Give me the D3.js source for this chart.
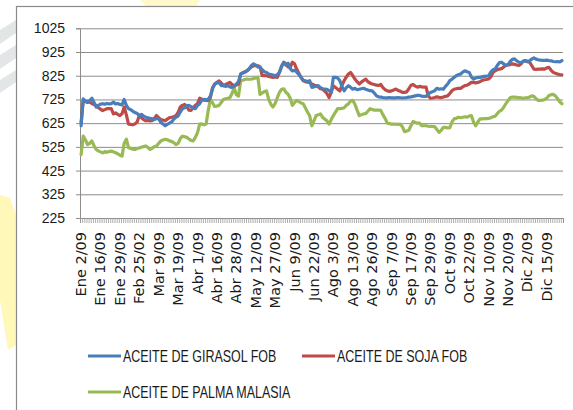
<!DOCTYPE html>
<html lang="es">
<head>
<meta charset="utf-8">
<title>Aceites</title>
<script src="https://cdnjs.cloudflare.com/ajax/libs/d3/7.8.5/d3.min.js" charset="utf-8"></script>
<style>
  body { margin: 0; background: #fff; }
  .ytick text { font: 14px "Liberation Sans", Arial, sans-serif; fill: #1a1a1a; }
  .xlab { font: 14.5px "DejaVu Sans", Verdana, sans-serif; fill: #1a1a1a; }
  .legend text { font: 16px "Liberation Sans", Arial, sans-serif; fill: #1a1a1a; }
</style>
</head>
<body>
<svg class="canvas"></svg>
<script>

// tick labels, one every 9 trading days
var tickLabels = ["Ene 2/09", "Ene 16/09", "Ene 29/09", "Feb 25/02", "Mar 9/09", "Mar 19/09",
  "Abr 1/09", "Abr 16/09", "Abr 28/09", "May 12/09", "May 27/09", "Jun 9/09", "Jun 22/09",
  "Ago 3/09", "Ago 13/09", "Ago 26/09", "Sep 7/09", "Sep 17/09", "Sep 29/09", "Oct 9/09",
  "Oct 22/09", "Nov 10/09", "Nov 20/09", "Dic 2/09", "Dic 15/09"];
var labelStep = 9;

var yTicks = [225, 325, 425, 525, 625, 725, 825, 925, 1025];

var seriesNames = ["ACEITE DE GIRASOL FOB", "ACEITE DE SOJA FOB", "ACEITE DE PALMA MALASIA"];
var seriesColors = ["#4a7ebb", "#be4b48", "#98b954"];

var girasol = [
  614,727,718,716,720,730,712,693,700,705,707,705,708,706,
  707,714,706,708,704,702,725,700,686,682,675,670,666,657,662,655,650,648,645,643,640,645,643,628,621,
  614,620,625,630,642,650,655,672,686,690,698,700,695,688,686,700,707,722,725,724,726,740,771,790,794,
  797,783,786,780,783,778,776,780,790,800,832,836,840,846,855,868,875,870,862,860,850,842,839,832,830,
  828,825,830,839,865,880,870,878,855,845,848,840,830,818,806,804,800,804,776,778,782,783,775,770,769,
  768,762,754,818,818,816,804,780,761,775,783,776,768,772,766,768,770,772,768,765,762,761,752,740,736,
  735,733,732,732,733,732,732,732,733,732,731,732,733,735,736,738,740,742,742,739,738,738,748,754,758,
  762,772,768,770,768,780,790,804,810,818,825,830,832,840,846,842,839,820,811,815,818,818,820,822,823,
  825,840,850,853,868,880,882,875,868,872,885,894,896,888,882,880,886,889,884,888,895,900,895,892,891,
  890,890,891,889,888,885,884,885,883,889];

var soja = [
  628,721,716,712,714,708,704,700,690,684,678,682,686,686,
  686,664,668,662,657,665,693,660,621,620,618,622,630,657,648,640,635,636,634,635,645,657,648,640,638,
  635,642,648,650,652,657,670,693,700,704,695,680,679,690,700,707,730,726,722,721,720,735,775,790,797,
  803,795,782,788,792,797,788,783,786,790,832,838,842,846,855,862,867,868,867,862,825,826,825,822,820,
  818,820,818,840,865,882,875,862,860,882,875,853,835,818,804,800,798,797,790,786,783,778,770,768,760,
  750,733,755,783,775,768,761,785,804,820,832,839,825,811,800,790,798,805,811,800,794,790,788,785,784,
  788,775,766,762,759,761,765,769,763,760,755,755,757,770,785,788,781,777,780,778,777,777,740,730,731,
  733,736,734,733,735,738,740,750,762,768,770,772,772,778,783,785,790,797,797,795,797,800,805,808,809,
  811,820,838,846,850,853,855,862,868,870,872,875,873,870,868,875,885,889,885,882,868,853,852,853,853,
  854,853,858,860,848,839,835,832,830,829];

var palma = [
  492,570,555,535,540,550,530,514,508,504,500,505,502,505,
  507,504,500,496,490,486,540,557,522,518,515,514,518,520,524,526,529,522,514,520,526,529,540,550,554,
  557,555,550,548,542,535,540,560,570,568,565,558,552,550,565,585,621,622,618,621,680,725,710,695,697,
  700,712,725,728,730,732,750,775,745,739,804,806,809,811,810,811,813,816,818,746,752,758,761,725,705,
  693,708,732,755,768,770,755,747,730,700,712,721,716,710,707,690,672,657,614,635,657,660,664,650,642,
  635,621,640,657,672,686,686,687,690,700,707,718,721,705,680,657,660,664,665,675,686,683,680,680,680,
  679,660,645,625,623,621,621,621,620,621,610,589,592,595,615,632,628,625,625,614,614,614,612,611,611,
  610,598,586,595,607,607,605,606,630,643,646,650,648,650,652,650,655,657,630,614,630,643,643,644,644,
  645,648,652,654,665,675,680,692,707,720,732,735,735,734,733,732,730,732,733,735,740,738,728,721,721,
  722,725,730,742,745,746,740,728,715,707];

(function () {
  var width = 573, height = 410;
  var left = 80, right = 563, top = 28.3, bottom = 218;
  var n = girasol.length;

  var svg = d3.select('.canvas')
      .attr('width', width)
      .attr('height', height);

  // faint watermark behind the frame
  var deco = svg.append('g');
  [[[0,30],[16,20],[16,33],[0,44]], [[0,55],[16,45],[16,58],[0,69]], [[0,80],[16,70],[16,82],[0,93]]]
    .forEach(function(p) { deco.append('polygon').attr('points', p.join(' ')).attr('fill', '#e3e6e6'); });
  deco.append('polygon').attr('points', [[0,195],[10,198],[16,215],[16,345],[8,350],[0,300]].join(' '))
    .attr('fill', '#fff8b8');
  deco.append('polygon').attr('points', [[140,0],[200,0],[196,6],[146,6]].join(' '))
    .attr('fill', '#fff8c8');

  // chart frame
  svg.append('rect').attr('x', 16.5).attr('y', 6.5).attr('width', 600).attr('height', 420)
    .attr('fill', '#fff').attr('stroke', '#8a8a8a').attr('stroke-width', 1.2);

  var x = d3.scaleBand().domain(d3.range(n)).range([left, right]);
  var xl = d3.scaleLinear().domain([0, n]).range([left, right]);
  var y = d3.scaleLinear().domain([225, 1025]).range([bottom, top]);
  var cx = function(i) { return x(i) + x.bandwidth() / 2; };

  // gridlines
  svg.append('g')
      .attr('transform', 'translate(' + left + ',0)')
      .call(d3.axisLeft(y).tickValues(yTicks).tickSize(-(right - left)).tickFormat(''))
      .call(function(g) {
        g.select('.domain').remove();
        g.selectAll('line').attr('stroke', '#8c8c8c').attr('stroke-width', 1);
      });

  // y axis
  svg.append('g')
      .attr('class', 'ytick')
      .attr('transform', 'translate(' + left + ',0)')
      .call(d3.axisLeft(y).tickValues(yTicks).tickSize(4).tickPadding(11).tickFormat(d3.format('d')))
      .call(function(g) {
        g.select('.domain').attr('stroke', '#8c8c8c');
        g.selectAll('line').attr('stroke', '#8c8c8c');
        g.selectAll('text').attr('font-family', null).attr('font-size', null);
      });

  // x axis, a tick between every category
  svg.append('g')
      .attr('transform', 'translate(0,' + bottom + ')')
      .call(d3.axisBottom(xl).tickValues(d3.range(n + 1)).tickSize(5).tickFormat(''))
      .call(function(g) {
        g.select('.domain').attr('stroke', '#8c8c8c');
        g.selectAll('line').attr('stroke', '#9a9a9a').attr('stroke-width', 0.8);
      });

  svg.append('g').selectAll('text')
      .data(tickLabels)
      .enter()
      .append('text')
      .attr('class', 'xlab')
      .attr('text-anchor', 'end')
      .attr('transform', function(d, k) {
        return 'translate(' + (cx(k * labelStep) + 5) + ',' + 232 + ') rotate(-90)';
      })
      .text(function(d) { return d; });

  // lines
  var line = d3.line()
      .x(function(d, i) { return cx(i); })
      .y(function(d) { return y(d); });

  [palma, soja, girasol].forEach(function(s, k) {
    svg.append('path')
        .datum(s)
        .attr('fill', 'none')
        .attr('stroke', seriesColors[2 - k])
        .attr('stroke-width', 3.2)
        .attr('stroke-linejoin', 'round')
        .attr('stroke-linecap', 'round')
        .attr('d', line);
  });

  // legend (condensed caps like the original)
  var legendPos = [[88, 356], [302, 356], [88, 392]];
  var legend = svg.append('g').attr('class', 'legend');
  seriesNames.forEach(function(name, k) {
    var p = legendPos[k];
    legend.append('line')
        .attr('x1', p[0]).attr('x2', p[0] + 33)
        .attr('y1', p[1]).attr('y2', p[1])
        .attr('stroke', seriesColors[k]).attr('stroke-width', 3.2);
    legend.append('text')
        .attr('transform', 'translate(' + (p[0] + 35) + ',' + p[1] + ') scale(0.78,1)')
        .attr('dy', '0.36em')
        .text(name);
  });
})();

</script>
</body>
</html>
